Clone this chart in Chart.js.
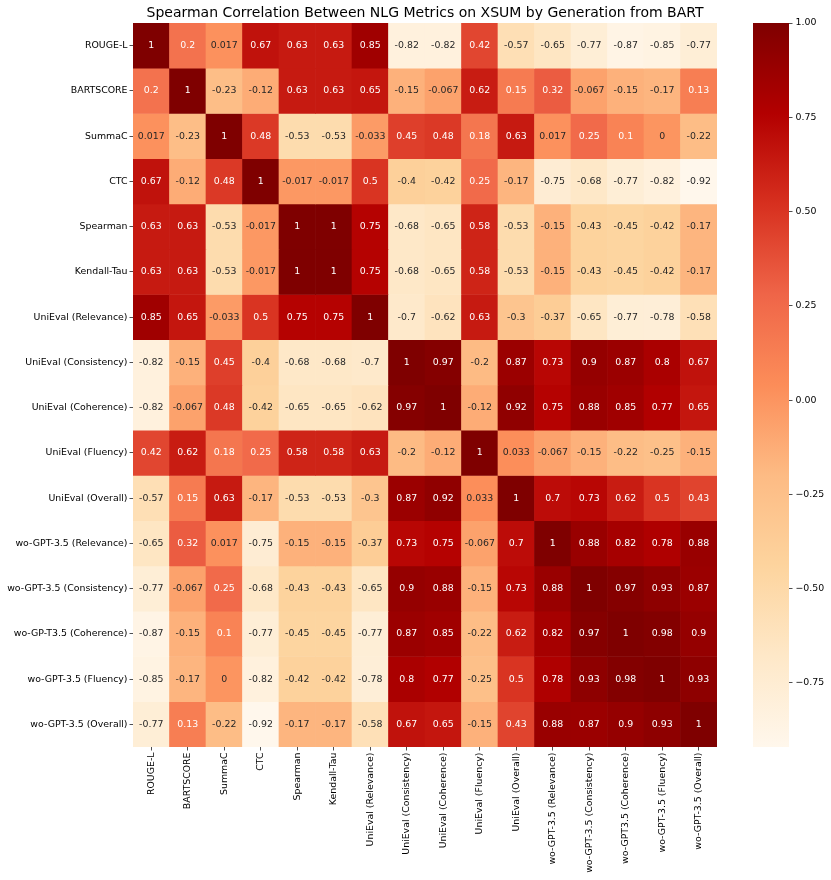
<!DOCTYPE html>
<html lang="en">
<head>
  <meta charset="UTF-8">
  <title>Spearman Correlation Heatmap</title>
  <script src="https://cdn.jsdelivr.net/npm/chart.js"></script>
  <style>
    body { margin: 0; background: #fff; }
    #wrap { position: relative; width: 831px; height: 880px; }
    #wrap canvas { position: absolute; top: 0; }
    #heat { left: 0; }
    #bar { left: 740px; }
  </style>
</head>
<body>
  <div id="wrap">
    <canvas id="heat" width="831" height="880"></canvas>
    <canvas id="bar" width="91" height="880"></canvas>
  </div>

  <script>
    const rowLabels = [
      "ROUGE-L", "BARTSCORE", "SummaC", "CTC", "Spearman", "Kendall-Tau",
      "UniEval (Relevance)", "UniEval (Consistency)", "UniEval (Coherence)",
      "UniEval (Fluency)", "UniEval (Overall)", "wo-GPT-3.5 (Relevance)",
      "wo-GPT-3.5 (Consistency)", "wo-GP-T3.5 (Coherence)",
      "wo-GPT-3.5 (Fluency)", "wo-GPT-3.5 (Overall)"
    ];
    const colLabels = [
      "ROUGE-L", "BARTSCORE", "SummaC", "CTC", "Spearman", "Kendall-Tau",
      "UniEval (Relevance)", "UniEval (Consistency)", "UniEval (Coherence)",
      "UniEval (Fluency)", "UniEval (Overall)", "wo-GPT-3.5 (Relevance)",
      "wo-GPT-3.5 (Consistency)", "wo-GPT3.5 (Coherence)",
      "wo-GPT-3.5 (Fluency)", "wo-GPT-3.5 (Overall)"
    ];

    // one row of the correlation matrix per metric
    const rougeL      = [1, 0.2, 0.017, 0.67, 0.63, 0.63, 0.85, -0.82, -0.82, 0.42, -0.57, -0.65, -0.77, -0.87, -0.85, -0.77];
    const bartscore   = [0.2, 1, -0.23, -0.12, 0.63, 0.63, 0.65, -0.15, -0.067, 0.62, 0.15, 0.32, -0.067, -0.15, -0.17, 0.13];
    const summac      = [0.017, -0.23, 1, 0.48, -0.53, -0.53, -0.033, 0.45, 0.48, 0.18, 0.63, 0.017, 0.25, 0.1, 0, -0.22];
    const ctc         = [0.67, -0.12, 0.48, 1, -0.017, -0.017, 0.5, -0.4, -0.42, 0.25, -0.17, -0.75, -0.68, -0.77, -0.82, -0.92];
    const spearman    = [0.63, 0.63, -0.53, -0.017, 1, 1, 0.75, -0.68, -0.65, 0.58, -0.53, -0.15, -0.43, -0.45, -0.42, -0.17];
    const kendall     = [0.63, 0.63, -0.53, -0.017, 1, 1, 0.75, -0.68, -0.65, 0.58, -0.53, -0.15, -0.43, -0.45, -0.42, -0.17];
    const uniRel      = [0.85, 0.65, -0.033, 0.5, 0.75, 0.75, 1, -0.7, -0.62, 0.63, -0.3, -0.37, -0.65, -0.77, -0.78, -0.58];
    const uniCons     = [-0.82, -0.15, 0.45, -0.4, -0.68, -0.68, -0.7, 1, 0.97, -0.2, 0.87, 0.73, 0.9, 0.87, 0.8, 0.67];
    const uniCoh      = [-0.82, -0.067, 0.48, -0.42, -0.65, -0.65, -0.62, 0.97, 1, -0.12, 0.92, 0.75, 0.88, 0.85, 0.77, 0.65];
    const uniFlu      = [0.42, 0.62, 0.18, 0.25, 0.58, 0.58, 0.63, -0.2, -0.12, 1, 0.033, -0.067, -0.15, -0.22, -0.25, -0.15];
    const uniOverall  = [-0.57, 0.15, 0.63, -0.17, -0.53, -0.53, -0.3, 0.87, 0.92, 0.033, 1, 0.7, 0.73, 0.62, 0.5, 0.43];
    const gptRel      = [-0.65, 0.32, 0.017, -0.75, -0.15, -0.15, -0.37, 0.73, 0.75, -0.067, 0.7, 1, 0.88, 0.82, 0.78, 0.88];
    const gptCons     = [-0.77, -0.067, 0.25, -0.68, -0.43, -0.43, -0.65, 0.9, 0.88, -0.15, 0.73, 0.88, 1, 0.97, 0.93, 0.87];
    const gptCoh      = [-0.87, -0.15, 0.1, -0.77, -0.45, -0.45, -0.77, 0.87, 0.85, -0.22, 0.62, 0.82, 0.97, 1, 0.98, 0.9];
    const gptFlu      = [-0.85, -0.17, 0, -0.82, -0.42, -0.42, -0.78, 0.8, 0.77, -0.25, 0.5, 0.78, 0.93, 0.98, 1, 0.93];
    const gptOverall  = [-0.77, 0.13, -0.22, -0.92, -0.17, -0.17, -0.58, 0.67, 0.65, -0.15, 0.43, 0.88, 0.87, 0.9, 0.93, 1];

    const matrix = [rougeL, bartscore, summac, ctc, spearman, kendall, uniRel, uniCons,
                    uniCoh, uniFlu, uniOverall, gptRel, gptCons, gptCoh, gptFlu, gptOverall];

    const colorbarTicks = [1, 0.75, 0.5, 0.25, 0, -0.25, -0.5, -0.75];

    const VMAX = 1;
    const VMIN = Math.min(...matrix.flat());

    // matplotlib OrRd stops
    const ORRD = ["#fff7ec", "#fee8c8", "#fdd49e", "#fdbb84", "#fc8d59", "#ef6548", "#d7301f", "#b30000", "#7f0000"];
    const stopRgb = ORRD.map(h => [1, 3, 5].map(k => parseInt(h.slice(k, k + 2), 16)));

    function cmap(t) {
      t = Math.max(0, Math.min(1, t));
      const pos = t * (stopRgb.length - 1);
      const i = Math.min(Math.floor(pos), stopRgb.length - 2);
      const f = pos - i;
      return stopRgb[i].map((c, k) => c + (stopRgb[i + 1][k] - c) * f);
    }
    const norm = v => (v - VMIN) / (VMAX - VMIN);
    const rgbStr = c => `rgb(${c.map(Math.round).join(",")})`;

    // same rule seaborn uses for annotation colour
    function textColor(c) {
      const lin = c.map(x => {
        x = x / 255;
        return x <= 0.03928 ? x / 12.92 : Math.pow((x + 0.055) / 1.055, 2.4);
      });
      const lum = 0.2126 * lin[0] + 0.7152 * lin[1] + 0.0722 * lin[2];
      return lum > 0.408 ? "#262626" : "#ffffff";
    }
    const fmt = v => String(Number(v.toPrecision(2)));

    const FONT = "DejaVu Sans";

    const datasets = matrix.map((row, i) => ({
      label: rowLabels[i],
      data: row.map(() => [i, i + 1]),
      values: row,
      backgroundColor: row.map(v => rgbStr(cmap(norm(v)))),
      borderWidth: 0,
      barPercentage: 1,
      categoryPercentage: 1,
      grouped: false
    }));

    const annotate = {
      id: "annotate",
      afterDatasetsDraw(chart) {
        const ctx = chart.ctx;
        ctx.save();
        ctx.font = `9.4px "${FONT}"`;
        ctx.textAlign = "center";
        ctx.textBaseline = "middle";
        chart.data.datasets.forEach((ds, i) => {
          chart.getDatasetMeta(i).data.forEach((el, j) => {
            const v = ds.values[j];
            const p = el.getCenterPoint();
            ctx.fillStyle = textColor(cmap(norm(v)));
            ctx.fillText(fmt(v), p.x, p.y);
          });
        });
        ctx.restore();
      }
    };

    const tickGrid = {
      display: true,
      drawOnChartArea: false,
      drawTicks: true,
      tickLength: 3.5,
      tickColor: "#222",
      tickWidth: 0.8,
      offset: false
    };

    new Chart(document.getElementById("heat").getContext("2d"), {
      type: "bar",
      data: { labels: colLabels, datasets },
      options: {
        responsive: false,
        animation: false,
        layout: { padding: { left: 0, right: 114, top: 0, bottom: 0 } },
        plugins: {
          legend: { display: false },
          tooltip: { enabled: false },
          title: {
            display: true,
            fullSize: false,
            text: "Spearman Correlation Between NLG Metrics on XSUM by Generation from BART",
            color: "#000",
            font: { family: FONT, size: 14, weight: "normal", lineHeight: 1.2 },
            padding: { top: 5, bottom: 1.2 }
          }
        },
        scales: {
          x: {
            type: "category",
            offset: true,
            border: { display: false },
            grid: tickGrid,
            ticks: {
              autoSkip: false,
              minRotation: 90,
              maxRotation: 90,
              padding: 2,
              color: "#000",
              font: { family: FONT, size: 9.4 }
            },
            afterFit(s) { s.height = 133; }
          },
          y: {
            type: "linear",
            min: 0,
            max: rowLabels.length,
            reverse: true,
            border: { display: false },
            grid: tickGrid,
            afterBuildTicks(s) { s.ticks = rowLabels.map((_, i) => ({ value: i + 0.5 })); },
            ticks: {
              autoSkip: false,
              padding: 2,
              color: "#000",
              font: { family: FONT, size: 9.4 },
              callback: v => rowLabels[Math.floor(v)]
            },
            afterFit(s) { s.width = 133; }
          }
        }
      },
      plugins: [annotate]
    });

    // colour bar
    function barGradient(context) {
      const area = context.chart.chartArea;
      if (!area) return ORRD[4];
      const y0 = context.chart.scales.y.getPixelForValue(VMIN);
      const y1 = context.chart.scales.y.getPixelForValue(VMAX);
      const g = context.chart.ctx.createLinearGradient(0, y0, 0, y1);
      ORRD.forEach((c, k) => g.addColorStop(k / (ORRD.length - 1), c));
      return g;
    }

    new Chart(document.getElementById("bar").getContext("2d"), {
      type: "bar",
      data: {
        labels: [""],
        datasets: [{
          data: [[VMIN, VMAX]],
          backgroundColor: barGradient,
          borderWidth: 0,
          barPercentage: 1,
          categoryPercentage: 1
        }]
      },
      options: {
        responsive: false,
        animation: false,
        layout: { padding: { left: 13, right: 0, top: 23, bottom: 133 } },
        plugins: { legend: { display: false }, tooltip: { enabled: false } },
        scales: {
          x: { display: false },
          y: {
            position: "right",
            min: VMIN,
            max: VMAX,
            border: { display: false },
            grid: { display: true, drawOnChartArea: false, tickLength: 3.5, tickColor: "#222", tickWidth: 0.8 },
            afterBuildTicks(s) { s.ticks = colorbarTicks.map(v => ({ value: v })); },
            ticks: {
              autoSkip: false,
              padding: 3,
              color: "#000",
              font: { family: FONT, size: 9.4 },
              callback: v => v.toFixed(2).replace("-", "\u2212")
            },
            afterFit(s) { s.width = 42; }
          }
        }
      }
    });
  </script>
</body>
</html>
